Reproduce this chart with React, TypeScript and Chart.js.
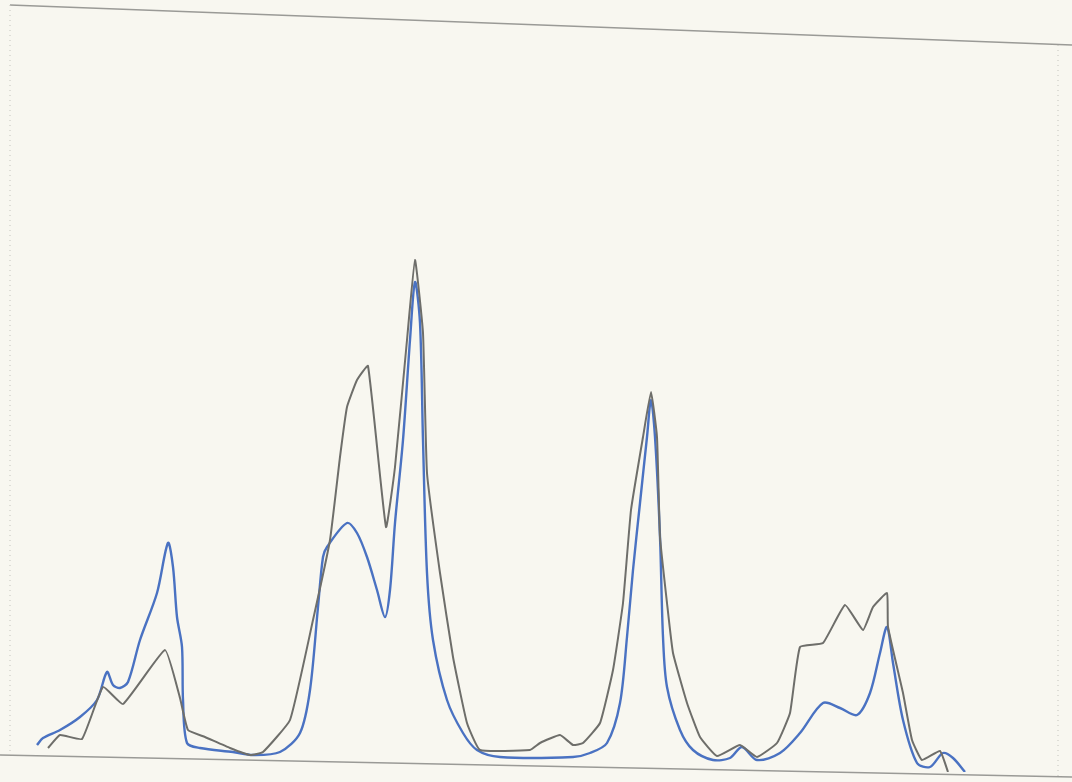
import React, { useEffect, useRef } from "react";
import { Chart, registerables } from "chart.js";

Chart.register(...registerables);

// Gray trace: horizontal position and height above baseline
const grayX = [48, 60, 82, 103, 123, 165, 180, 188, 205, 230, 250, 263, 290, 313, 330, 340, 347, 357, 368, 386, 395, 407, 415, 423, 427, 440, 453, 467, 480, 530, 540, 560, 573, 583, 600, 613, 623, 631, 643, 651, 657, 660, 667, 673, 687, 700, 717, 740, 757, 777, 790, 800, 823, 845, 863, 873, 887, 888, 903, 912, 922, 940, 948];
const grayY = [24, 37, 33, 85, 68, 122, 74, 42, 35, 24, 17, 20, 52, 152, 232, 315, 365, 392, 406, 245, 305, 432, 512, 439, 299, 199, 115, 49, 22, 22, 29, 37, 27, 29, 49, 102, 169, 262, 335, 380, 335, 235, 169, 119, 69, 35, 16, 27, 15, 29, 59, 125, 129, 167, 142, 165, 179, 145, 79, 32, 12, 21, 0];

// Blue trace
const blueX = [37, 43, 60, 80, 97, 107, 113, 120, 128, 140, 157, 168, 173, 177, 182, 183, 187, 200, 233, 253, 280, 300, 310, 318, 323, 327, 347, 357, 367, 377, 385, 390, 395, 403, 410, 415, 420, 423, 427, 433, 447, 463, 477, 500, 573, 590, 607, 620, 627, 633, 640, 647, 651, 655, 660, 663, 667, 680, 693, 713, 730, 742, 757, 780, 800, 823, 840, 857, 870, 880, 887, 893, 903, 917, 930, 943, 953, 965];
const blueY = [27, 34, 42, 55, 72, 100, 87, 84, 90, 132, 179, 229, 205, 155, 125, 72, 29, 24, 20, 17, 20, 39, 82, 165, 215, 225, 249, 239, 215, 182, 155, 182, 249, 332, 432, 490, 449, 332, 199, 132, 72, 39, 22, 15, 15, 19, 29, 69, 135, 202, 269, 335, 372, 335, 235, 135, 85, 42, 22, 12, 14, 25, 12, 19, 39, 69, 64, 57, 79, 119, 145, 109, 52, 9, 5, 19, 14, 0];

const xMin = 10;
const xMax = 1062;
const yMin = 0;
const yMax = 750;

// Scanned-sheet tilt of the frame lines (px offsets at the left / right ends)
const topTilt = [-17, 23];
const bottomTilt = [-17, 5];

const toPoints = (xs: number[], ys: number[]) => xs.map((x, i) => ({ x, y: ys[i] }));

const framePlugin = {
  id: "frame",
  beforeDatasetsDraw(chart: any) {
    const { ctx, chartArea } = chart;
    const { left, right, top, bottom } = chartArea;
    ctx.save();
    ctx.strokeStyle = "#9a9a96";
    ctx.lineWidth = 1.5;
    ctx.beginPath();
    ctx.moveTo(left, top + topTilt[0]);
    ctx.lineTo(right + 10, top + topTilt[1]);
    ctx.moveTo(0, bottom + bottomTilt[0]);
    ctx.lineTo(right + 10, bottom + bottomTilt[1]);
    ctx.stroke();
    ctx.strokeStyle = "#c4c4bd";
    ctx.lineWidth = 1;
    ctx.setLineDash([1, 4]);
    ctx.beginPath();
    ctx.moveTo(left, top + topTilt[0]);
    ctx.lineTo(left, bottom + bottomTilt[0]);
    ctx.moveTo(right - 4, top + topTilt[1]);
    ctx.lineTo(right - 4, bottom + bottomTilt[1]);
    ctx.stroke();
    ctx.restore();
  },
};

export default function App() {
  const ref = useRef<HTMLCanvasElement | null>(null);
  useEffect(() => {
    if (!ref.current) return;
    const chart = new Chart(ref.current, {
      type: "line",
      data: {
        datasets: [
          {
            label: "gray",
            data: toPoints(grayX, grayY),
            borderColor: "#6e6e6a",
            borderWidth: 2,
            pointRadius: 0,
            tension: 0.12,
            fill: false,
          },
          {
            label: "blue",
            data: toPoints(blueX, blueY),
            borderColor: "#4a72c2",
            borderWidth: 2.4,
            pointRadius: 0,
            tension: 0.3,
            fill: false,
          },
        ],
      },
      options: {
        animation: false,
        responsive: false,
        maintainAspectRatio: false,
        layout: { padding: { left: 10, right: 10, top: 22, bottom: 10 } },
        plugins: { legend: { display: false }, tooltip: { enabled: false } },
        scales: {
          x: { type: "linear", min: xMin, max: xMax, display: false },
          y: { type: "linear", min: yMin, max: yMax, display: false },
        },
      },
      plugins: [framePlugin],
    });
    return () => chart.destroy();
  }, []);
  return (
    <div style={{ position: "fixed", left: 0, top: 0, width: 1072, height: 782, background: "#f8f7f0" }}>
      <canvas ref={ref} width={1072} height={782} style={{ display: "block", width: 1072, height: 782 }} />
    </div>
  );
}
